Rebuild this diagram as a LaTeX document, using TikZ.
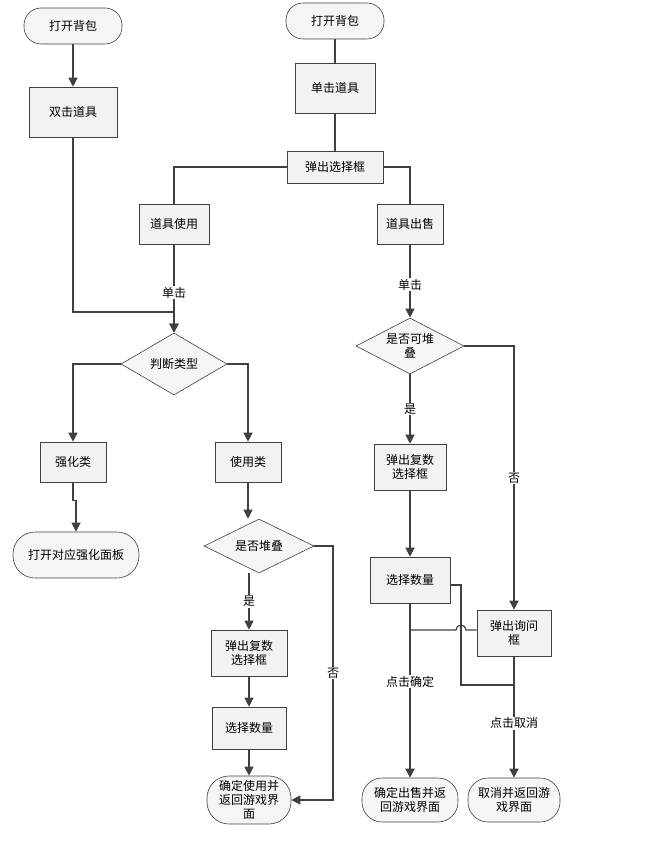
\documentclass[tikz,border=0pt]{standalone}
\usepackage{fontspec}
\newfontfamily\cjk{Noto Sans CJK SC}
\usetikzlibrary{shapes.geometric,arrows.meta}
\begin{document}
\begin{tikzpicture}[x=1pt,y=-1pt,
  every node/.style={font=\cjk\fontsize{12}{14}\selectfont,align=center,inner sep=1pt},
  boxn/.style={draw=black!75,fill=black!5,minimum width=#1,minimum height=44pt,line width=0.6pt},
  term/.style={draw=black!75,fill=black!4,rounded corners=17pt,minimum height=#1,line width=0.6pt},
  dia/.style={draw=black!75,fill=black!4,diamond,aspect=1.8,inner sep=0pt,line width=0.6pt},
  ln/.style={draw=black!75,line width=1.2pt},
  ar/.style={ln,-{Triangle[length=9pt,width=9pt]}},
  lab/.style={fill=white,inner sep=1pt}]
\useasboundingbox (0,0) rectangle (658,866);
\node[term=36pt,minimum width=98pt] (o1) at (73,26) {打开背包};
\node[boxn=88pt,minimum height=50pt] (dbl) at (73,112) {双击道具};
\node[term=36pt,minimum width=98pt] (o2) at (335,21) {打开背包};
\node[boxn=80pt,minimum height=50pt] (clk) at (335,88) {单击道具};
\node[boxn=96pt,minimum height=32pt] (pop) at (335,167) {弹出选择框};
\node[boxn=70pt,minimum height=40pt] (use) at (174,224) {道具使用};
\node[boxn=66pt,minimum height=40pt] (sell) at (410,224) {道具出售};
\node[dia,minimum width=106pt,minimum height=62pt] (jd) at (174,364) {判断类型};
\node[dia,minimum width=108pt,minimum height=56pt] (sk) at (410,346) {是否可堆\\叠};
\node[boxn=66pt,minimum height=40pt] (str) at (73,462) {强化类};
\node[boxn=66pt,minimum height=40pt] (uc) at (248,462) {使用类};
\node[term=46pt,minimum width=126pt,rounded corners=22pt] (op) at (76,555) {打开对应强化面板};
\node[dia,minimum width=110pt,minimum height=54pt] (sk2) at (259,546) {是否堆叠};
\node[boxn=76pt,minimum height=46pt] (p2) at (249,653) {弹出复数\\选择框};
\node[boxn=74pt,minimum height=42pt] (s2) at (249,728) {选择数量};
\node[term=48pt,minimum width=84pt,rounded corners=22pt] (cu) at (249,800) {确定使用并\\返回游戏界\\面};
\node[boxn=72pt,minimum height=46pt] (p3) at (410,467) {弹出复数\\选择框};
\node[boxn=80pt,minimum height=46pt] (s3) at (410,580) {选择数量};
\node[boxn=74pt,minimum height=46pt] (ask) at (514,633) {弹出询问\\框};
\node[term=44pt,minimum width=96pt,rounded corners=20pt] (cs) at (410,800) {确定出售并返\\回游戏界面};
\node[term=44pt,minimum width=92pt,rounded corners=20pt] (cc) at (514,800) {取消并返回游\\戏界面};

\draw[ar] (o1) -- (dbl);
\draw[ln] (o2) -- (clk);
\draw[ln] (clk) -- (pop);
\draw[ln] (pop.west) -| (use.north);
\draw[ln] (pop.east) -| (sell.north);
\draw[ar] (use) -- node[lab,pos=0.55]{单击} (jd);
\draw[ar] (dbl.south) |- (174,312) -- (jd.north);
\draw[ar] (sell) -- node[lab,pos=0.55]{单击} (sk);
\draw[ar] (jd.west) -| (str.north);
\draw[ar] (jd.east) -| (uc.north);
\draw[ar] (str.south) -- ++(0,18) -| (op.north);
\draw[ar] (uc) -- (uc.south |- sk2.north);
\draw[ar] (p2.north |- sk2.south) -- node[lab]{是} (p2.north);
\draw[ar] (p2) -- (s2);
\draw[ar] (s2) -- (cu);
\draw[ar] (sk2.east) -- (333,546) |- node[lab,pos=0.25]{否} (cu.east);
\draw[ar] (sk) -- node[lab]{是} (p3);
\draw[ar] (p3) -- (s3);
\draw[ar] (sk.east) -| node[lab,pos=0.75]{否} (ask.north);
\draw[ar,line width=2.2pt] (s3) -- node[lab,pos=0.45]{点击确定} (cs);
\draw[ln] (ask.west |- 0,630) -- (466,630) arc[start angle=0,end angle=-180,radius=5] -- (410,630);
\draw[ln] (s3.east |- 0,585) -- (461,585) -- (461,685) -- (514,685);
\draw[ar] (ask) -- node[lab,pos=0.55]{点击取消} (cc);
\end{tikzpicture}
\end{document}
